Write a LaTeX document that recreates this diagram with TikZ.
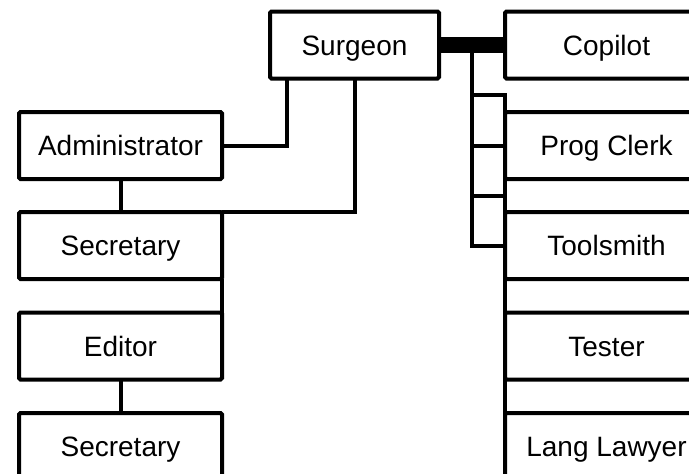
\documentclass[tikz,border=0pt]{standalone}
\usepackage{fontspec}
\setmainfont{Liberation Sans}
\usetikzlibrary{calc}
\begin{document}
\begin{tikzpicture}[x=1pt, y=-1pt,
    member/.style={draw, line width=4pt, rounded corners=1.5pt, minimum width=203pt, minimum height=67pt,
        inner sep=0pt, outer sep=0pt, text height=20pt, text depth=0pt, font=\fontsize{28}{34}\selectfont},
    link/.style={line width=4pt}]
    \useasboundingbox (0,0) rectangle (689,474);

    % Surgeon and copilot
    \node[member, minimum width=169pt] (surgeon) at (354.5, 45) {Surgeon};
    \node[member] (copilot) at (606.5, 45) {Copilot};
    \draw[line width=16pt] (surgeon.east) -- (copilot.west);

    % Left column
    \node[member] (admin) at (120.5, 145.5) {Administrator};
    \node[member] (sec1) at (120.5, 245.5) {Secretary};
    \node[member] (editor) at (120.5, 346) {Editor};
    \node[member] (sec2) at (120.5, 446.5) {Secretary};

    \draw[link] ([xshift=17pt]surgeon.south west) |- (admin.east);
    \draw[link] (surgeon.south) |- (sec1.north east);
    \draw[link] (admin.south) -- (sec1.north);
    \draw[link] (sec1.south east) -- (editor.north east);
    \draw[link] (editor.south) -- (sec2.north);

    % Right column
    \node[member] (clerk) at (606.5, 145.5) {Prog Clerk};
    \node[member] (toolsmith) at (606.5, 245.5) {Toolsmith};
    \node[member] (tester) at (606.5, 346) {Tester};
    \node[member] (lawyer) at (606.5, 446.5) {Lang Lawyer};

    \coordinate (bus) at ($(surgeon.east)!.5!(copilot.west)$);
    \coordinate (gap0) at ($(copilot.south west)!.5!(clerk.north west)$);
    \coordinate (gap1) at ($(clerk.south west)!.5!(toolsmith.north west)$);

    \draw[link] (bus) |- (gap0) -- (lawyer.south west);
    \draw[link] (bus) |- (clerk.west);
    \draw[link] (bus |- gap1) -- (gap1);
    \draw[link] (bus) |- (toolsmith.west);
\end{tikzpicture}
\end{document}
